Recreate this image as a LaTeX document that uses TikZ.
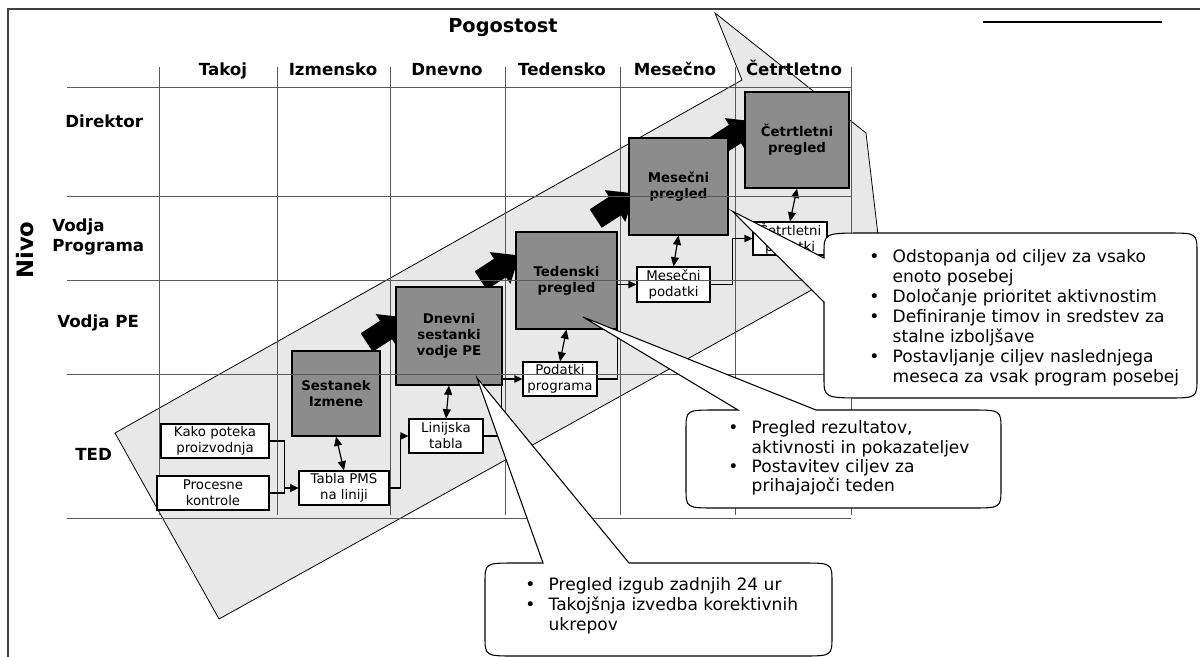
\documentclass[tikz,border=0pt]{standalone}
\usepackage{fontspec}
\setmainfont{DejaVu Sans}
\usetikzlibrary{calc, shapes, positioning, arrows.meta}
\tikzstyle{frame}=[draw=black!75, line width=1pt]
\tikzstyle{gridline}=[draw=black!65, line width=0.6pt]
\tikzstyle{band}=[draw=black, fill=black!9, line width=0.6pt]
\tikzstyle{boxd}=[shape=rectangle, draw=black, fill=black!45, line width=0.8pt, inner sep=0pt, align=center, font=\fontsize{10}{12}\selectfont\bfseries]
\tikzstyle{boxw}=[shape=rectangle, draw=black, fill=white, line width=0.8pt, inner sep=0pt, align=center, minimum height=25.5pt, font=\fontsize{10}{12}\selectfont]
\tikzstyle{lbl}=[inner sep=0pt, font=\fontsize{12.5}{15}\selectfont\bfseries]
\tikzstyle{conn}=[draw=black, line width=0.9pt, -{Triangle[length=6pt,width=5.5pt]}]
\tikzstyle{dbl}=[draw=black, line width=0.9pt, {Triangle[length=7pt,width=6pt]}-{Triangle[length=7pt,width=6pt]}]
\tikzstyle{bubble}=[draw=black, fill=white, line width=0.8pt]
\tikzstyle{bullets}=[inner sep=0pt, anchor=north west, font=\fontsize{12.8}{15}\selectfont]

\begin{document}
\begin{tikzpicture}[x=0.75pt, y=-0.75pt]
\useasboundingbox (0,0) rectangle (1200,657);
%frame
\draw[frame] (8,657) -- (8,9) -- (1200,9);
\draw[line width=1.1pt] (983,22) -- (1162,22);
%gray band
\draw[band] (115,433) -- (742,80) -- (715,13) -- (866,133) -- (880,252) -- (219,619) -- cycle;
%grid
\foreach \x in {159,277,390,505,620,735,851}{
	\draw[gridline] (\x,67) -- (\x,515);
}
%headers
\node[lbl, font=\fontsize{14.5}{17}\selectfont\bfseries] (pog) at (503,28) {Pogostost};
\foreach \x/\t/\n in {223/Takoj/h1, 333/Izmensko/h2, 447/Dnevno/h3, 562/Tedensko/h4, 675/Mesečno/h5, 794/Četrtletno/h6}{
	\node[lbl, anchor=base] (\n) at (\x,75) {\t};
}
\node[lbl, anchor=base west] (dir) at (65,127) {Direktor};
\node[lbl, anchor=west, align=left] (vprog) at (52,237) {Vodja\\Programa};
\node[lbl, anchor=base west] (vpe) at (57,327) {Vodja PE};
\node[lbl, anchor=base west] (ted) at (75,460) {TED};
\node[rotate=90, inner sep=0pt, font=\fontsize{17}{20}\selectfont\bfseries] (nivo) at (25,250) {Nivo};
%block arrows
\foreach \cx/\cy in {386/330, 500/268, 615/206, 735/134}{
	\fill[black, shift={(\cx,\cy)}, rotate=33] (-23,-11) -- (0,-11) -- (0,-19) -- (23,0) -- (0,19) -- (0,11) -- (-23,11) -- cycle;
}
%meetings
\node[boxd, minimum width=66pt, minimum height=63.75pt] (sest) at (336,393.5) {Sestanek\\Izmene};
\node[boxd, minimum width=79.5pt, minimum height=73.5pt] (dnev) at (449,336) {Dnevni\\sestanki\\vodje PE};
\node[boxd, minimum width=75.75pt, minimum height=72.75pt] (tedp) at (566.5,280.5) {Tedenski\\pregled};
\node[boxd, minimum width=74.25pt, minimum height=72.75pt] (mesp) at (678.5,186.5) {Mesečni\\pregled};
\node[boxd, minimum width=78pt, minimum height=72pt] (cetp) at (797,140) {Četrtletni\\pregled};
%data
\node[boxw, minimum width=81pt] (kako) at (215,441) {Kako poteka\\proizvodnja};
\node[boxw, minimum width=84pt] (proc) at (213,493) {Procesne\\kontrole};
\node[boxw, minimum width=67.5pt] (tabla) at (344,488) {Tabla PMS\\na liniji};
\node[boxw, minimum width=55.5pt] (lin) at (446,436) {Linijska\\tabla};
\node[boxw, minimum width=55.5pt] (podp) at (560,379) {Podatki\\programa};
\node[boxw, minimum width=54.75pt, minimum height=26.25pt] (mesd) at (673.5,284.5) {Mesečni\\podatki};
\node[boxw, minimum width=55.5pt, minimum height=24.75pt] (cetd) at (790,238.5) {Četrtletni\\podatki};
%flow
\draw[conn] (kako.east) -- ++(15,0) |- (tabla.west);
\draw[conn] (proc.east) -- ++(15,0) |- (tabla.west);
\draw[conn] (tabla.east) -- ++(11,0) |- (lin.west);
\draw[conn] (lin.east) -- ++(18,0) |- (podp.west);
\draw[conn] (podp.east) -- ++(20,0) |- (mesd.west);
\draw[conn] (mesd.east) -- ++(22,0) |- (cetd.west);
\draw[dbl] (sest.south) -- (tabla.north);
\draw[dbl] (dnev.south) -- (lin.north);
\draw[dbl] (tedp.south) -- (podp.north);
\draw[dbl] (mesp.south) -- (mesd.north);
\draw[dbl] (cetp.south) -- (cetd.north);
%rows
\foreach \y in {87,196,280,374,518}{
	\draw[gridline] (67,\y) -- (851,\y);
}
%callouts
\draw[bubble] (824,302) -- (732,211) -- (824,258) -- (824,253) .. controls (824,233) .. (866,233) -- (1167,233) .. controls (1197,233) .. (1197,253) -- (1197,378) .. controls (1197,398) .. (1167,398) -- (866,398) .. controls (824,398) .. (824,378) -- cycle;
\draw[bubble] (816,410) -- (583,317) -- (738,410) -- (716,410) .. controls (686,410) .. (686,430) -- (686,488) .. controls (686,508) .. (716,508) -- (971,508) .. controls (1001,508) .. (1001,488) -- (1001,430) .. controls (1001,410) .. (971,410) -- cycle;
\draw[bubble] (629,563) -- (477,378) -- (543,563) -- (515,563) .. controls (485,563) .. (485,583) -- (485,636) .. controls (485,656) .. (515,656) -- (802,656) .. controls (832,656) .. (832,636) -- (832,583) .. controls (832,563) .. (802,563) -- cycle;
\node[bullets] (t1) at (869,248) {\begin{tabular}{@{}l@{\hspace{10pt}}l@{}}
\textbullet & Odstopanja od ciljev za vsako\\
 & enoto posebej\\
\textbullet & Določanje prioritet aktivnostim\\
\textbullet & Definiranje timov in sredstev za\\
 & stalne izboljšave\\
\textbullet & Postavljanje ciljev naslednjega\\
 & meseca za vsak program posebej
\end{tabular}};
\node[bullets, font=\fontsize{12.8}{14.5}\selectfont] (t2) at (728,420) {\begin{tabular}{@{}l@{\hspace{10pt}}l@{}}
\textbullet & Pregled rezultatov,\\
 & aktivnosti in pokazateljev\\
\textbullet & Postavitev ciljev za\\
 & prihajajoči teden
\end{tabular}};
\node[bullets] (t3) at (525,576) {\begin{tabular}{@{}l@{\hspace{10pt}}l@{}}
\textbullet & Pregled izgub zadnjih 24 ur\\
\textbullet & Takojšnja izvedba korektivnih\\
 & ukrepov
\end{tabular}};
\end{tikzpicture}
\end{document}
